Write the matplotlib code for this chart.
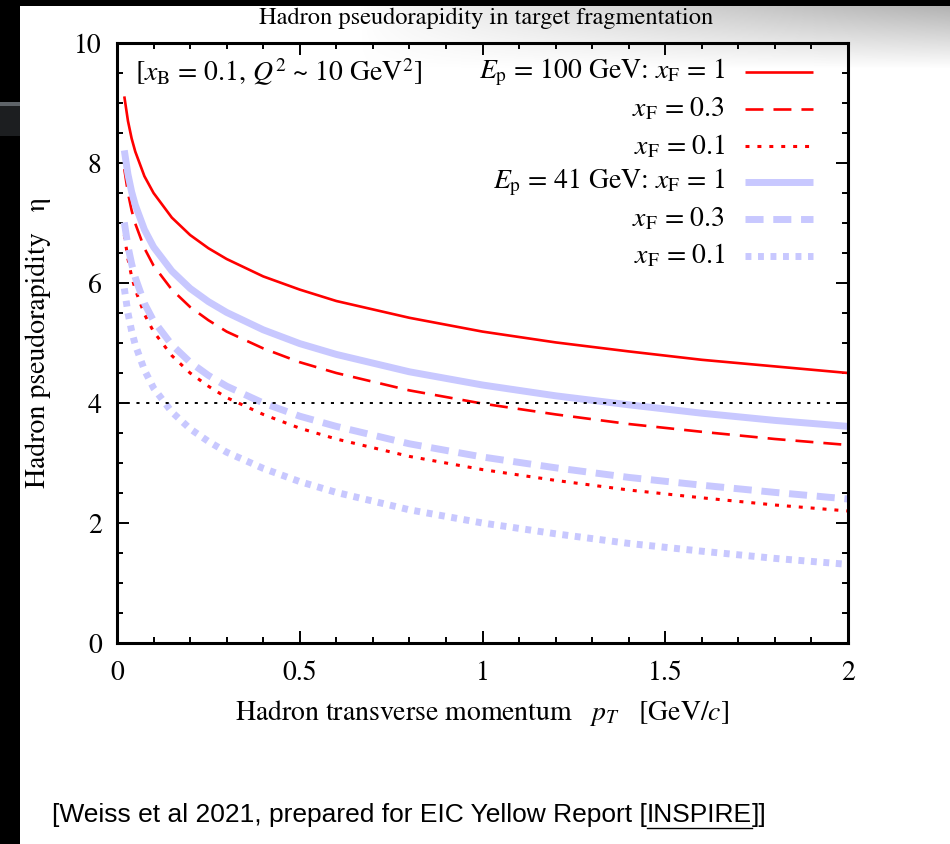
import matplotlib
matplotlib.use("Agg")
import matplotlib.pyplot as plt
import numpy as np
from matplotlib.ticker import MultipleLocator, FixedLocator

plt.rcParams["font.family"] = ["STIXGeneral", "DejaVu Serif"]
plt.rcParams["mathtext.fontset"] = "stix"

# transverse momentum samples [GeV/c]
p_t = [0.02, 0.03, 0.04, 0.05, 0.075, 0.1, 0.15, 0.2, 0.25, 0.3, 0.4, 0.5,
       0.6, 0.8, 1.0, 1.2, 1.4, 1.6, 1.8, 2.0]

# hadron pseudorapidity, Ep = 100 GeV
eta_100_xf1 = [9.11, 8.70, 8.41, 8.19, 7.78, 7.50, 7.09, 6.80, 6.58, 6.40, 6.11, 5.89,
               5.70, 5.42, 5.19, 5.01, 4.86, 4.72, 4.61, 4.50]
eta_100_xf03 = [7.90, 7.50, 7.21, 6.99, 6.58, 6.29, 5.89, 5.60, 5.38, 5.19, 4.91, 4.68,
                4.50, 4.21, 3.99, 3.81, 3.65, 3.52, 3.40, 3.30]
eta_100_xf01 = [6.80, 6.40, 6.11, 5.89, 5.48, 5.19, 4.79, 4.50, 4.28, 4.09, 3.81, 3.58,
                3.40, 3.11, 2.89, 2.71, 2.55, 2.42, 2.30, 2.20]
# hadron pseudorapidity, Ep = 41 GeV
eta_41_xf1 = [8.21, 7.81, 7.52, 7.30, 6.89, 6.60, 6.20, 5.91, 5.69, 5.51, 5.22, 4.99,
              4.81, 4.52, 4.30, 4.12, 3.97, 3.83, 3.71, 3.61]
eta_41_xf03 = [7.01, 6.61, 6.32, 6.09, 5.66, 5.37, 4.97, 4.68, 4.46, 4.28, 4.00, 3.78,
               3.61, 3.32, 3.10, 2.92, 2.76, 2.63, 2.51, 2.40]
eta_41_xf01 = [5.91, 5.50, 5.20, 4.97, 4.55, 4.25, 3.85, 3.57, 3.36, 3.18, 2.91, 2.69,
               2.51, 2.22, 2.00, 1.82, 1.66, 1.53, 1.41, 1.31]

eta_ref = 4.0

labels = [
    r"$E_\mathrm{p}$ = 100 GeV: $x_\mathrm{F}$ = 1",
    r"$x_\mathrm{F}$ = 0.3",
    r"$x_\mathrm{F}$ = 0.1",
    r"$E_\mathrm{p}$ = 41 GeV: $x_\mathrm{F}$ = 1",
    r"$x_\mathrm{F}$ = 0.3",
    r"$x_\mathrm{F}$ = 0.1",
]
series = [eta_100_xf1, eta_100_xf03, eta_100_xf01, eta_41_xf1, eta_41_xf03, eta_41_xf01]

RED = "#ff0000"
LAV = "#c8c8ff"
styles = [
    dict(color=RED, lw=1.9, ls="-"),
    dict(color=RED, lw=1.9, ls=(0, (6.8, 3.8))),
    dict(color=RED, lw=2.2, ls=(0, (1.3, 2.6))),
    dict(color=LAV, lw=5.0, ls="-"),
    dict(color=LAV, lw=5.0, ls=(0, (2.6, 1.4))),
    dict(color=LAV, lw=5.0, ls=(0, (0.85, 0.95))),
]

W, H = 950, 844
fig = plt.figure(figsize=(W / 100, H / 100), dpi=100)
fig.patch.set_facecolor("white")

# screenshot backdrop: grey gradient top right, dark borders
bg = fig.add_axes([0, 0, 1, 1], zorder=-5)
bg.set_xlim(0, W)
bg.set_ylim(H, 0)
bg.axis("off")
gx, gy = np.meshgrid(np.arange(W), np.arange(90))
alpha = np.clip((gx - 360) / 590.0, 0, 1) ** 0.8 * np.clip(1 - (gy - 6) / 62.0, 0, 1)
grad = np.zeros((90, W, 4))
grad[..., :3] = 0.70
grad[..., 3] = alpha
bg.imshow(grad, extent=(0, W, 90, 0), aspect="auto", interpolation="bilinear")
bg.add_patch(plt.Rectangle((0, 0), W, 6, color="black", lw=0))
bg.add_patch(plt.Rectangle((0, 0), 20, H, color="black", lw=0))
bg.add_patch(plt.Rectangle((0, 102), 20, 4, color="#5e6368", lw=0))
bg.add_patch(plt.Rectangle((0, 106), 20, 30, color="#1c1e20", lw=0))

ax = fig.add_axes([117 / W, 1 - 643 / H, 731 / W, 600 / H])
ax.set_facecolor("none")

for vals, st in zip(series, styles):
    ax.plot(p_t, vals, solid_capstyle="butt", dash_capstyle="butt", **st)
ax.axhline(eta_ref, color="black", lw=1.4, ls=(0, (1.6, 3.4)), dash_capstyle="butt")

ax.set_xlim(0, 2)
ax.set_ylim(0, 10)
ax.xaxis.set_major_locator(FixedLocator([0, 0.5, 1, 1.5, 2]))
ax.set_xticklabels(["0", "0.5", "1", "1.5", "2"])
ax.xaxis.set_minor_locator(MultipleLocator(0.1))
ax.yaxis.set_major_locator(MultipleLocator(2))
ax.yaxis.set_minor_locator(MultipleLocator(0.5))
ax.tick_params(which="both", direction="in", top=True, right=True, width=1.4,
               color="black", labelsize=20)
ax.tick_params(which="major", length=8.6)
ax.tick_params(which="minor", length=4.3)
ax.tick_params(axis="x", which="major", pad=13)
ax.tick_params(axis="y", which="major", pad=11)
for sp in ax.spines.values():
    sp.set_linewidth(2.2)

fig.text(482 / W, 1 - 713 / H, r"Hadron transverse momentum   $p_T$   [GeV/$c$]",
         ha="center", va="center", fontsize=20)
fig.text(38 / W, 1 - 343 / H, "Hadron pseudorapidity   η", rotation=90,
         ha="center", va="center", fontsize=20)
fig.text(486 / W, 1 - 18 / H, "Hadron pseudorapidity in target fragmentation",
         ha="center", va="center", fontsize=17.6)

ax.text(0.024, 0.951, r"[$x_\mathrm{B}$ = 0.1, $Q^2$ ~ 10 GeV$^2$]", transform=ax.transAxes,
        ha="left", va="center", fontsize=20)

# gnuplot style key: right aligned text, sample line on the right
row_y = [0.951, 0.89, 0.828, 0.768, 0.707, 0.645]
for lab, st, yy in zip(labels, styles, row_y):
    ax.text(0.832, yy, lab, transform=ax.transAxes, ha="right", va="center", fontsize=20)
    ax.plot([0.859, 0.952], [yy, yy], transform=ax.transAxes,
            solid_capstyle="butt", dash_capstyle="butt", **st)

# footer with underlined link text
fx, fy = 52 / W, 1 - 815 / H
foot = ["[Weiss et al 2021, prepared for EIC Yellow Report [", "INSPIRE", "]]"]
renderer = fig.canvas.get_renderer()
x_cur = fx
for i, part in enumerate(foot):
    t = fig.text(x_cur, fy, part, ha="left", va="center", fontsize=19,
                 family="Liberation Sans")
    bb = t.get_window_extent(renderer=renderer)
    x_next = x_cur + bb.width / W
    if i == 1:
        fig.add_artist(plt.Line2D([x_cur, x_next], [fy - 13 / H, fy - 13 / H],
                                  color="black", lw=1.0, transform=fig.transFigure))
    x_cur = x_next

fig.savefig("out.png", dpi=100)
